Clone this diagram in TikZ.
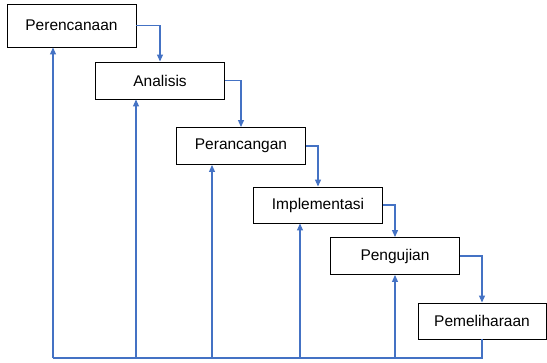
\documentclass[tikz,border=0pt]{standalone}
\usepackage{fontspec}
\setmainfont{Liberation Sans}
\usetikzlibrary{arrows.meta}
\definecolor{flowblue}{HTML}{4472C4}
\tikzset{
  phase/.style={draw=black, line width=0.9pt, fill=white, inner sep=0pt,
    minimum width=129pt, minimum height=37pt, font=\fontsize{15.5}{18}\selectfont},
  flow/.style={draw=flowblue, line width=1.1pt, -{Triangle[length=7pt,width=6pt]}},
  link/.style={draw=flowblue, line width=1.1pt}
}
\begin{document}
\begin{tikzpicture}[x=1pt, y=-1pt]
  \useasboundingbox (0,0) rectangle (547,362);

  % phases of the waterfall
  \node[phase, minimum height=43pt] (per) at (71.5,25.5) {Perencanaan};
  \node[phase] (ana) at (160,80.5) {Analisis};
  \node[phase] (ran) at (241,146) {Perancangan};
  \node[phase, minimum height=36pt] (imp) at (318,205) {Implementasi};
  \node[phase] (uji) at (395,256) {Pengujian};
  \node[phase, minimum height=36pt, minimum width=128pt] (pem) at (482,321) {Pemeliharaan};

  % forward steps
  \draw[flow] (per.east) -| (ana.north);
  \draw[flow] (ana.east) -| (ran.north);
  \draw[flow] (ran.east) -| (imp.north);
  \draw[flow] (imp.east) -| (uji.north);
  \draw[flow] (uji.east) -| (pem.north);

  % feedback bus along the bottom
  \coordinate (b1) at (53,358);
  \coordinate (b2) at (136,358);
  \coordinate (b3) at (212,358);
  \coordinate (b4) at (300,358);
  \coordinate (b5) at (395,358);
  \draw[link] (pem.south) |- (b1);
  \draw[flow] (b1) -- (b1 |- per.south);
  \draw[flow] (b2) -- (b2 |- ana.south);
  \draw[flow] (b3) -- (b3 |- ran.south);
  \draw[flow] (b4) -- (b4 |- imp.south);
  \draw[flow] (b5) -- (b5 |- uji.south);
\end{tikzpicture}
\end{document}
